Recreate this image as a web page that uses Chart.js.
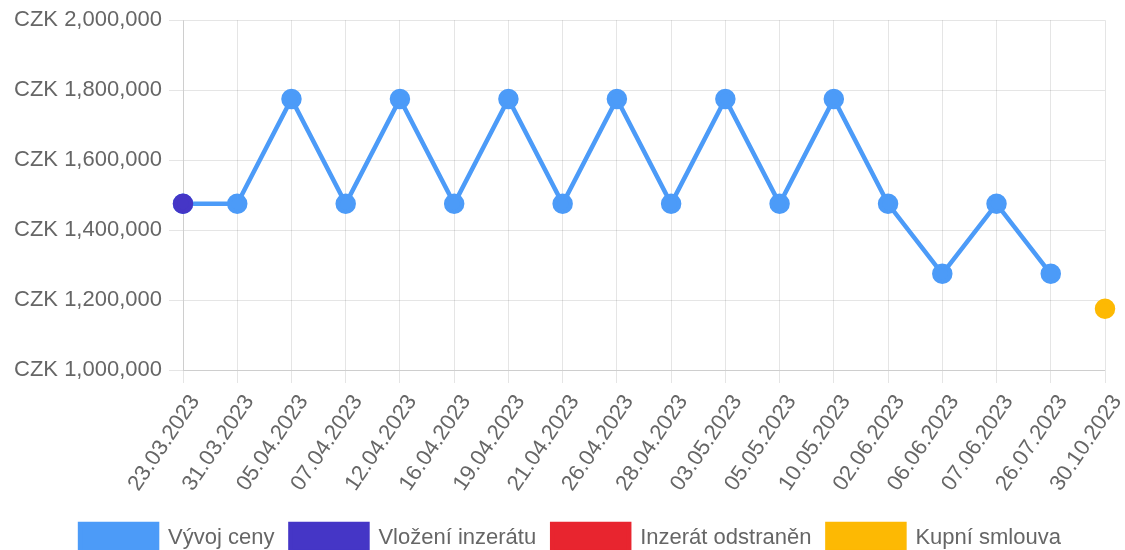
<!DOCTYPE html>
<html>
<head>
<meta charset="utf-8">
<script src="https://cdn.jsdelivr.net/npm/chart.js@4/dist/chart.umd.min.js"></script>
<style>
  html, body { margin: 0; padding: 0; background: #fff; }
  #wrap { width: 1125px; height: 550px; }
</style>
</head>
<body>
<div id="wrap"><canvas id="c" width="1125" height="550"></canvas></div>
<script>
const dates = ['23.03.2023','31.03.2023','05.04.2023','07.04.2023','12.04.2023','16.04.2023',
  '19.04.2023','21.04.2023','26.04.2023','28.04.2023','03.05.2023','05.05.2023','10.05.2023',
  '02.06.2023','06.06.2023','07.06.2023','26.07.2023','30.10.2023'];

const priceHistory = [1475000, 1475000, 1775000, 1475000, 1775000, 1475000, 1775000, 1475000,
  1775000, 1475000, 1775000, 1475000, 1775000, 1475000, 1275000, 1475000, 1275000, null];
const listingAdded = [1475000, null, null, null, null, null, null, null, null, null, null, null,
  null, null, null, null, null, null];
const listingRemoved = [null, null, null, null, null, null, null, null, null, null, null, null,
  null, null, null, null, null, null];
const purchaseContract = [null, null, null, null, null, null, null, null, null, null, null, null,
  null, null, null, null, null, 1175000];

const seriesNames = ['Vývoj ceny', 'Vložení inzerátu', 'Inzerát odstraněn', 'Kupní smlouva'];
const yTicks = { min: 1000000, max: 2000000, step: 200000 };

const FONT = '"Liberation Sans", Arial, sans-serif';
const TEXT = '#666';

function pointSet(label, data, color, order) {
  return {
    label, data, order,
    borderColor: color, backgroundColor: color,
    pointBackgroundColor: color, pointBorderColor: color,
    pointRadius: 8, pointHoverRadius: 8, borderWidth: 4.5,
    showLine: false, spanGaps: false
  };
}

// nudge the legend row a little to the right of the canvas centre
const legendShift = {
  id: 'legendShift',
  afterLayout(chart) {
    const lg = chart.legend;
    if (lg) { lg.left += 8; lg.right += 8; }
  }
};

new Chart(document.getElementById('c'), {
  type: 'line',
  plugins: [legendShift],
  data: {
    labels: dates,
    datasets: [
      {
        label: seriesNames[0], data: priceHistory, order: 2,
        borderColor: '#4c9bf8', backgroundColor: '#4c9bf8',
        pointBackgroundColor: '#4c9bf8', pointBorderColor: '#4c9bf8',
        pointRadius: 8, pointHoverRadius: 8, borderWidth: 4.5,
        tension: 0, fill: false
      },
      pointSet(seriesNames[1], listingAdded, '#4536c6', 1),
      pointSet(seriesNames[2], listingRemoved, '#e8252f', 1),
      pointSet(seriesNames[3], purchaseContract, '#fdb903', 1)
    ]
  },
  options: {
    responsive: false,
    animation: false,
    devicePixelRatio: 1,
    layout: { padding: { top: 10, right: 0, left: 0, bottom: -12 } },
    scales: {
      x: {
        offset: false,
        grid: { color: 'rgba(0,0,0,0.1)', tickLength: 13, lineWidth: 1 },
        border: { color: 'rgba(0,0,0,0.1)' },
        ticks: {
          color: TEXT, font: { family: FONT, size: 22 },
          minRotation: 56, maxRotation: 56, autoSkip: false, padding: 7,
          labelOffset: 12
        },
        afterFit: (s) => { s.height = 138; s.paddingRight = 20; s.paddingLeft = 0; }
      },
      y: {
        min: yTicks.min, max: yTicks.max,
        grid: { color: 'rgba(0,0,0,0.1)', tickLength: 14, lineWidth: 1 },
        border: { color: 'rgba(0,0,0,0.1)' },
        ticks: {
          stepSize: yTicks.step, color: TEXT, padding: 7,
          font: { family: FONT, size: 22 },
          callback: (v) => 'CZK ' + Number(v).toLocaleString('en-US')
        },
        afterFit: (s) => { s.width = 183; }
      }
    },
    plugins: {
      tooltip: { enabled: false },
      legend: {
        position: 'bottom',
        labels: {
          boxWidth: 77, boxHeight: 28, padding: 16,
          color: TEXT, font: { family: FONT, size: 22 },
          sort: (a, b) => a.datasetIndex - b.datasetIndex
        }
      }
    }
  }
});
</script>
</body>
</html>
